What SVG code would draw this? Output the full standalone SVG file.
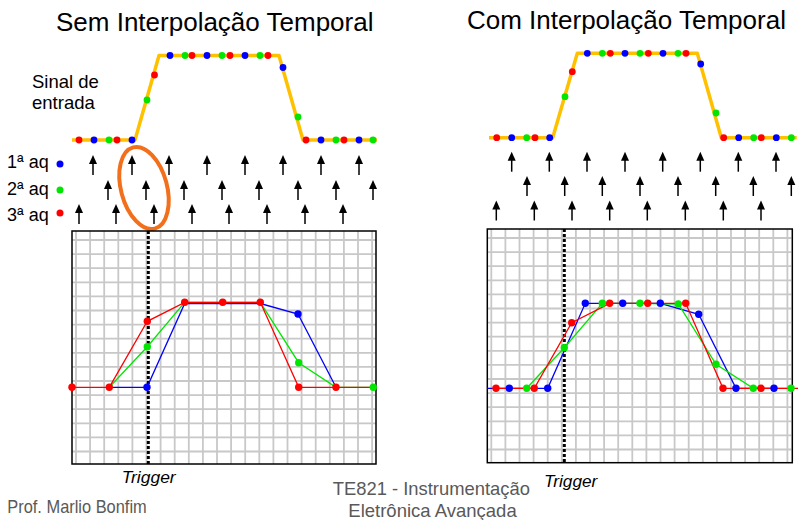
<svg xmlns="http://www.w3.org/2000/svg" xmlns:xlink="http://www.w3.org/1999/xlink" width="799" height="520" viewBox="0 0 799 520">
<style>
text{font-family:"Liberation Sans",Arial,sans-serif;fill:#000}
.title{font-size:26px}
.lbl{font-size:18px}
.sin{font-size:18.5px}
.trig{font-size:16.5px;font-style:italic}
.foot{font-size:19px;fill:#595959}
.sig{fill:none;stroke:#ffc000;stroke-width:3.5;stroke-linejoin:round}
.b{fill:#0000ff}.g{fill:#00e600}.r{fill:#ff0000}
.lb{fill:none;stroke:#0000ff;stroke-width:1.3}
.lg{fill:none;stroke:#00e600;stroke-width:1.3}
.lr{fill:none;stroke:#ff0000;stroke-width:1.3}
.grid{stroke:#c8c8c8;stroke-width:1.8}
.box{fill:none;stroke:#000;stroke-width:1.5}
.trg{stroke:#000;stroke-width:3;stroke-dasharray:3 2}
</style>
<defs>
<g id="arr"><path d="M0,0 L-4,9 L4,9 Z" fill="#000"/><line x1="0" y1="8" x2="0" y2="20" stroke="#000" stroke-width="1.5"/></g>
<g id="gridL">
<path class="grid" d="M76,231V464M90.1,231V464M104.2,231V464M118.3,231V464M132.4,231V464M146.5,231V464M160.6,231V464M174.7,231V464M188.8,231V464M202.9,231V464M217,231V464M231.1,231V464M245.2,231V464M259.3,231V464M273.4,231V464M287.5,231V464M301.6,231V464M315.7,231V464M329.8,231V464M343.9,231V464M358,231V464M372.1,231V464"/>
<path class="grid" d="M72,240H376M72,254.1H376M72,268.2H376M72,282.3H376M72,296.4H376M72,310.5H376M72,324.6H376M72,338.7H376M72,352.8H376M72,366.9H376M72,381H376M72,395.1H376M72,409.2H376M72,423.3H376M72,437.4H376M72,451.5H376"/>
</g>
</defs>

<g id="titles">
<text class="title" x="56" y="30.7">Sem Interpolação Temporal</text>
<text class="title" x="467" y="29">Com Interpolação Temporal</text>
</g>

<g id="label-sinal">
<text class="sin" x="32" y="88.3">Sinal de</text>
<text class="sin" x="32" y="109.3">entrada</text>
</g>

<g id="legend">
<text class="lbl" x="7" y="168.3">1ª aq</text>
<circle class="b" cx="60" cy="164" r="3.5"/>
<text class="lbl" x="7" y="195">2ª aq</text>
<circle class="g" cx="60" cy="190" r="3.5"/>
<text class="lbl" x="7" y="221">3ª aq</text>
<circle class="r" cx="60" cy="213" r="3.5"/>
</g>

<g id="signal-left">
<polyline class="sig" points="72,140 135,140 159,55.5 279,55.5 303,140 377,140"/>
<circle class="r" cx="79" cy="140" r="3.4"/><circle class="b" cx="94" cy="140" r="3.4"/><circle class="g" cx="109" cy="140" r="3.4"/><circle class="r" cx="117" cy="140" r="3.4"/><circle class="b" cx="132" cy="140" r="3.4"/>
<circle class="g" cx="147" cy="100" r="3.4"/><circle class="r" cx="154.5" cy="75" r="3.4"/>
<circle class="b" cx="170" cy="55.5" r="3.4"/><circle class="g" cx="185" cy="55.5" r="3.4"/><circle class="r" cx="192" cy="55.5" r="3.4"/><circle class="b" cx="207" cy="55.5" r="3.4"/><circle class="g" cx="222" cy="55.5" r="3.4"/><circle class="r" cx="230" cy="55.5" r="3.4"/><circle class="b" cx="245" cy="55.5" r="3.4"/><circle class="g" cx="260" cy="55.5" r="3.4"/><circle class="r" cx="268" cy="55.5" r="3.4"/>
<circle class="b" cx="283" cy="67.5" r="3.4"/><circle class="g" cx="298" cy="117" r="3.4"/>
<circle class="r" cx="306" cy="140" r="3.4"/><circle class="b" cx="321" cy="140" r="3.4"/><circle class="g" cx="336" cy="140" r="3.4"/><circle class="r" cx="344" cy="140" r="3.4"/><circle class="b" cx="359" cy="140" r="3.4"/><circle class="g" cx="373" cy="140" r="3.4"/>
</g>

<g id="arrows-left">
<use xlink:href="#arr" x="93" y="155"/><use xlink:href="#arr" x="132" y="155"/><use xlink:href="#arr" x="169" y="155"/><use xlink:href="#arr" x="207" y="155"/><use xlink:href="#arr" x="245" y="155"/><use xlink:href="#arr" x="283" y="155"/><use xlink:href="#arr" x="321" y="155"/><use xlink:href="#arr" x="359" y="155"/>
<use xlink:href="#arr" x="108" y="180"/><use xlink:href="#arr" x="146" y="180"/><use xlink:href="#arr" x="184" y="180"/><use xlink:href="#arr" x="222" y="180"/><use xlink:href="#arr" x="259" y="180"/><use xlink:href="#arr" x="298" y="180"/><use xlink:href="#arr" x="336" y="180"/><use xlink:href="#arr" x="373" y="180"/>
<use xlink:href="#arr" x="79" y="204"/><use xlink:href="#arr" x="116" y="204"/><use xlink:href="#arr" x="154" y="204"/><use xlink:href="#arr" x="192" y="204"/><use xlink:href="#arr" x="229" y="204"/><use xlink:href="#arr" x="267" y="204"/><use xlink:href="#arr" x="305" y="204"/><use xlink:href="#arr" x="343" y="204"/>
</g>

<g id="highlight">
<ellipse cx="144" cy="188" rx="23" ry="42" fill="none" stroke="#f26f1b" stroke-width="4" transform="rotate(-15 144 188)"/>
</g>

<g id="scope-left">
<rect x="72" y="231" width="304" height="233" fill="#fff"/>
<use xlink:href="#gridL"/>
<rect class="box" x="72" y="231" width="304" height="233"/>
<line class="trg" x1="148.3" y1="231" x2="148.3" y2="464"/>
<polyline class="lb" points="109.3,387.3 147,387.3 184.7,303.5 222.7,303.5 260.3,303.5 298,314 336,387.3"/>
<polyline class="lg" points="109.3,387.3 147.3,346.7 184.7,302.3 222.7,302.3 260.3,302.3 298.7,362.7 336,387.3 373.3,387.3"/>
<polyline class="lr" points="72,387.3 109.3,387.3 147.3,321.3 184.7,302.3 222.7,302.3 260.3,302.3 298.7,387.3 336,387.3 373.3,387.3"/>
<circle class="b" cx="147" cy="387.3" r="3.7"/><circle class="g" cx="147.3" cy="346.7" r="3.7"/><circle class="b" cx="298" cy="314" r="3.7"/><circle class="g" cx="298.7" cy="362.7" r="3.7"/><circle class="g" cx="373.3" cy="387.3" r="3.7"/>
<circle class="r" cx="72" cy="387.3" r="3.7"/><circle class="r" cx="109.3" cy="387.3" r="3.7"/><circle class="r" cx="147.3" cy="321.3" r="3.7"/><circle class="r" cx="184.7" cy="302.3" r="3.7"/><circle class="r" cx="222.7" cy="302.3" r="3.7"/><circle class="r" cx="260.3" cy="302.3" r="3.7"/><circle class="r" cx="298.7" cy="387.3" r="3.7"/><circle class="r" cx="336" cy="387.3" r="3.7"/>
</g>

<g id="signal-right">
<polyline class="sig" points="489,137.7 552.7,137.7 577.3,53.3 697.3,53.3 721.3,137.7 796.7,137.7"/>
<circle class="r" cx="496.7" cy="137.7" r="3.4"/><circle class="b" cx="511.7" cy="137.7" r="3.4"/><circle class="g" cx="526.7" cy="137.7" r="3.4"/><circle class="r" cx="535" cy="137.7" r="3.4"/><circle class="b" cx="549.7" cy="137.7" r="3.4"/>
<circle class="g" cx="565" cy="96.7" r="3.4"/><circle class="r" cx="572.3" cy="71.7" r="3.4"/>
<circle class="b" cx="587.3" cy="53.3" r="3.4"/><circle class="g" cx="602.3" cy="53.3" r="3.4"/><circle class="r" cx="610.3" cy="53.3" r="3.4"/><circle class="b" cx="625" cy="53.3" r="3.4"/><circle class="g" cx="640" cy="53.3" r="3.4"/><circle class="r" cx="648.3" cy="53.3" r="3.4"/><circle class="b" cx="663" cy="53.3" r="3.4"/><circle class="g" cx="678" cy="53.3" r="3.4"/><circle class="r" cx="686" cy="53.3" r="3.4"/>
<circle class="b" cx="700.7" cy="64" r="3.4"/><circle class="g" cx="716" cy="113" r="3.4"/>
<circle class="r" cx="723.7" cy="137.7" r="3.4"/><circle class="b" cx="738.7" cy="137.7" r="3.4"/><circle class="g" cx="753.7" cy="137.7" r="3.4"/><circle class="r" cx="761.3" cy="137.7" r="3.4"/><circle class="b" cx="776.3" cy="137.7" r="3.4"/><circle class="g" cx="791.3" cy="137.7" r="3.4"/>
</g>

<g id="arrows-right">
<use xlink:href="#arr" x="511.7" y="151.7"/><use xlink:href="#arr" x="549.3" y="151.7"/><use xlink:href="#arr" x="587" y="151.7"/><use xlink:href="#arr" x="625" y="151.7"/><use xlink:href="#arr" x="662.7" y="151.7"/><use xlink:href="#arr" x="700.3" y="151.7"/><use xlink:href="#arr" x="738.3" y="151.7"/><use xlink:href="#arr" x="776" y="151.7"/>
<use xlink:href="#arr" x="527" y="176"/><use xlink:href="#arr" x="564.7" y="176"/><use xlink:href="#arr" x="602.3" y="176"/><use xlink:href="#arr" x="640" y="176"/><use xlink:href="#arr" x="678" y="176"/><use xlink:href="#arr" x="715.7" y="176"/><use xlink:href="#arr" x="753.3" y="176"/><use xlink:href="#arr" x="791.3" y="176"/>
<use xlink:href="#arr" x="496.3" y="200.5"/><use xlink:href="#arr" x="534.3" y="200.5"/><use xlink:href="#arr" x="572" y="200.5"/><use xlink:href="#arr" x="609.7" y="200.5"/><use xlink:href="#arr" x="647.3" y="200.5"/><use xlink:href="#arr" x="685.3" y="200.5"/><use xlink:href="#arr" x="723.3" y="200.5"/><use xlink:href="#arr" x="761" y="200.5"/>
</g>

<g id="scope-right">
<rect x="487.3" y="229" width="305" height="233.7" fill="#fff"/>
<use xlink:href="#gridL" transform="translate(415.3,-2)"/>
<rect class="box" x="487.3" y="229" width="305" height="233.7"/>
<line class="trg" x1="564.3" y1="229" x2="564.3" y2="462.7"/>
<polyline class="lb" points="487,388.3 547.7,388.3 585.3,303.3 660.3,303.3 698.7,314.3 736,388.3 774,388.3"/>
<polyline class="lg" points="526.7,388.3 564.3,347.7 602.3,303.3 640,303.3 678.3,304 716,364.3 753.3,388.3 791,388.3"/>
<polyline class="lr" points="496,388.3 534.3,388.3 571.7,322.7 609.7,303.3 647.7,303.3 685.7,303.3 723,388.3 761,388.3 798,388.3"/>
<circle class="b" cx="509.3" cy="388.3" r="3.7"/><circle class="g" cx="526.7" cy="388.3" r="3.7"/><circle class="b" cx="547.7" cy="388.3" r="3.7"/>
<circle class="r" cx="496" cy="388.3" r="3.7"/><circle class="r" cx="534.3" cy="388.3" r="3.7"/>
<circle class="g" cx="564.3" cy="347.7" r="3.7"/><circle class="r" cx="571.7" cy="322.7" r="3.7"/>
<circle class="b" cx="585.3" cy="303.3" r="3.7"/><circle class="g" cx="602.3" cy="303.3" r="3.7"/><circle class="r" cx="609.7" cy="303.3" r="3.7"/><circle class="b" cx="622.7" cy="303.3" r="3.7"/><circle class="g" cx="640" cy="303.3" r="3.7"/><circle class="r" cx="647.7" cy="303.3" r="3.7"/><circle class="b" cx="660.3" cy="303.3" r="3.7"/><circle class="g" cx="678.3" cy="304" r="3.7"/><circle class="r" cx="685.7" cy="303.3" r="3.7"/>
<circle class="b" cx="698.7" cy="314.3" r="3.7"/><circle class="g" cx="716" cy="364.3" r="3.7"/><circle class="r" cx="723" cy="388.3" r="3.7"/>
<circle class="b" cx="736" cy="388.3" r="3.7"/><circle class="g" cx="753.3" cy="388.3" r="3.7"/><circle class="r" cx="761" cy="388.3" r="3.7"/><circle class="b" cx="774" cy="388.3" r="3.7"/><circle class="g" cx="791" cy="388.3" r="3.7"/>
</g>

<g id="trigger-labels">
<text class="trig" x="121.7" y="483.3" textLength="54" lengthAdjust="spacingAndGlyphs">Trigger</text>
<text class="trig" x="544" y="486.7" textLength="53.3" lengthAdjust="spacingAndGlyphs">Trigger</text>
</g>

<g id="footer">
<text class="foot" x="7.3" y="513.3" textLength="139.4" lengthAdjust="spacingAndGlyphs">Prof. Marlio Bonfim</text>
<text class="foot" x="332.7" y="495" textLength="197.3" lengthAdjust="spacingAndGlyphs">TE821 - Instrumentação</text>
<text class="foot" x="348.3" y="516.7" textLength="168.4" lengthAdjust="spacingAndGlyphs">Eletrônica Avançada</text>
</g>
</svg>
